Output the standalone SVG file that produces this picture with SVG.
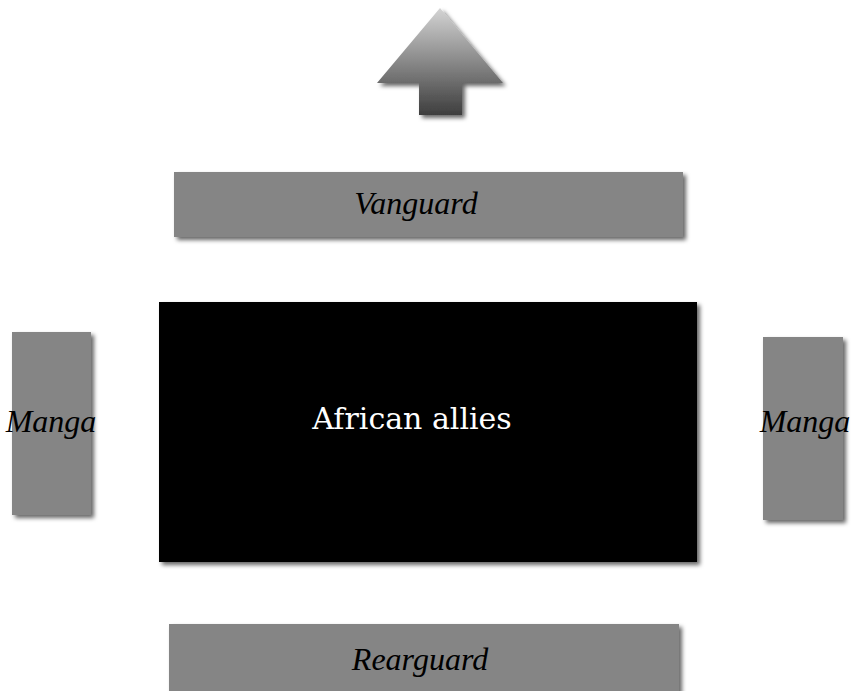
<svg xmlns="http://www.w3.org/2000/svg" width="851" height="691" viewBox="0 0 851 691">
<style>
.box{fill:#858585;filter:url(#sh)}
.lbl{font-family:"Liberation Serif","Times New Roman",serif;font-style:italic;font-size:32px;fill:#000;text-anchor:middle}
.main{font-family:"DejaVu Serif",serif;font-size:30px;fill:#fff;text-anchor:middle}
</style>
<defs>
<filter id="sh" x="-10%" y="-10%" width="125%" height="130%">
<feDropShadow dx="3" dy="3" stdDeviation="2" flood-color="#000" flood-opacity="0.6"/>
</filter>
<linearGradient id="ag" x1="0" y1="0" x2="0" y2="1">
<stop offset="0" stop-color="#d4d4d4"/>
<stop offset="1" stop-color="#3e3e3e"/>
</linearGradient>
</defs>
<rect width="851" height="691" fill="#fff"/>
<g id="arrow">
<polygon points="440,8 503,83 462,83 462,115 419,115 419,83 377,83" fill="url(#ag)" filter="url(#sh)"/>
</g>
<g id="vanguard">
<rect class="box" x="174" y="172" width="509" height="65"/>
<text class="lbl" x="416" y="214">Vanguard</text>
</g>
<g id="african-allies">
<rect x="159" y="302" width="538" height="260" fill="#000" filter="url(#sh)"/>
<text class="main" x="412" y="429">African allies</text>
</g>
<g id="manga-left">
<rect class="box" x="12" y="332" width="79" height="183"/>
<text class="lbl" x="51" y="432">Manga</text>
</g>
<g id="manga-right">
<rect class="box" x="763" y="337" width="80" height="183"/>
<text class="lbl" x="805" y="432">Manga</text>
</g>
<g id="rearguard">
<rect class="box" x="169" y="624" width="510" height="70"/>
<text class="lbl" x="420" y="670">Rearguard</text>
</g>
<g id="connectors"></g>
</svg>
